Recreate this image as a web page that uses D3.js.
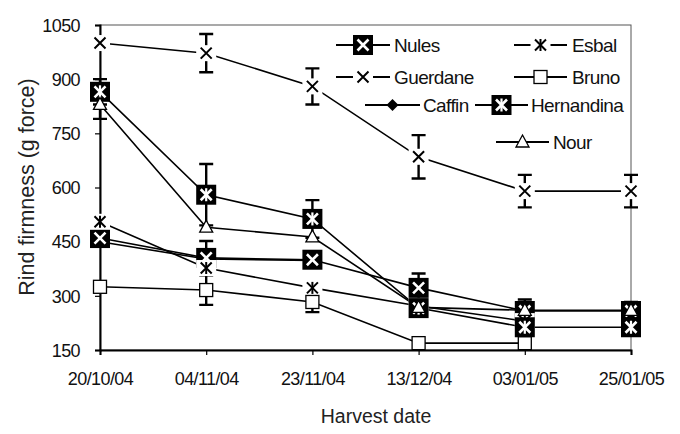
<!DOCTYPE html>
<html><head><meta charset="utf-8">
<script src="https://cdn.jsdelivr.net/npm/d3@7/dist/d3.min.js"></script>
<style>body{margin:0;background:#fff}svg{font-family:"Liberation Sans",Arial,sans-serif}</style>
</head><body><svg id="c" width="680" height="434"></svg>
<script>
const dates = ["20/10/04","04/11/04","23/11/04","13/12/04","03/01/05","25/01/05"];
const yTicks = [150,300,450,600,750,900,1050];
const seriesNames = ["Nules","Esbal","Guerdane","Bruno","Caffin","Hernandina","Nour"];
const nules      = [460, 405, 400, 322, 258, 258];
const esbal      = [505, 377, 322, 272, 230, null];
const guerdane   = [1000, 972, 880, 685, 590, 590];
const bruno      = [325, 316, 283, 169, 169, null];
const caffin     = [450, 402, 398, null, null, null];
const hernandina = [865, 580, 513, 266, 213, 213];
const nour       = [830, 490, 463, 268, 260, 260];
const errNules      = [0, 47, 0, 40, 22, 0];
const errEsbal      = [0, 0, 0, 0, 0, 0];
const errGuerdane   = [0, 53, 50, 60, 45, 45];
const errBruno      = [0, 41, 28, 0, 0, 0];
const errCaffin     = [0, 0, 0, 0, 0, 0];
const errHernandina = [35, 85, 52, 0, 0, 0];
const errNour       = [40, 0, 0, 0, 30, 23];

const series = [
  {name:"Nules", v:nules, e:errNules, m:"sqX"},
  {name:"Esbal", v:esbal, e:errEsbal, m:"ast"},
  {name:"Guerdane", v:guerdane, e:errGuerdane, m:"x"},
  {name:"Bruno", v:bruno, e:errBruno, m:"sqW"},
  {name:"Caffin", v:caffin, e:errCaffin, m:"dia"},
  {name:"Hernandina", v:hernandina, e:errHernandina, m:"sqA"},
  {name:"Nour", v:nour, e:errNour, m:"tri"}
];
const markerOrder = ["Caffin","Nules","Esbal","Guerdane","Bruno","Hernandina","Nour"];

const svg = d3.select("#c");
const L=100, R=631, T=25, B=350;
const x = d3.scalePoint().domain(dates).range([L,R]).padding(0);
const y = d3.scaleLinear().domain([150,1050]).range([B,T]);

// frame
svg.append("rect").attr("x",L).attr("y",T).attr("width",R-L).attr("height",B-T)
  .attr("fill","none").attr("stroke","#555").attr("stroke-width",1);

// axes
const ya = svg.append("g").attr("transform",`translate(${L},0)`)
  .call(d3.axisLeft(y).tickValues(yTicks).tickFormat(d3.format("d")).tickSize(5).tickPadding(15));
const xa = svg.append("g").attr("transform",`translate(0,${B})`)
  .call(d3.axisBottom(x).tickSize(5).tickPadding(18));
[ya,xa].forEach(g=>{
  g.select(".domain").attr("stroke","#000").attr("stroke-width",2);
  g.selectAll(".tick line").attr("stroke","#000").attr("stroke-width",1.2);
  g.selectAll("text").attr("font-size",18).attr("fill","#111").attr("font-family","Liberation Sans, Arial, sans-serif").attr("letter-spacing","-0.6");
});
xa.selectAll(".tick text").attr("dy","0.66em");
ya.selectAll(".tick text").attr("dy","0.35em");

svg.append("text").attr("transform","translate(34,187) rotate(-90)").attr("text-anchor","middle")
  .attr("font-size",21.5).attr("fill","#222").text("Rind firmness (g force)");
svg.append("text").attr("x",376).attr("y",423).attr("text-anchor","middle")
  .attr("font-size",19.5).attr("fill","#222").text("Harvest date");

// lines
const line = d3.line().defined(d=>d.v!=null).x(d=>x(d.d)).y(d=>y(d.v));
const pl = svg.append("g");
series.forEach(s=>{
  const pts = dates.map((d,i)=>({d, v:s.v[i]}));
  pl.append("path").attr("d",line(pts)).attr("fill","none").attr("stroke","#000").attr("stroke-width",1.6);
});

function marker(g, type, cx, cy, bgLine){
  const k = g.append("g").attr("transform",`translate(${cx},${cy})`);
  if(type==="sqX"||type==="sqA"){
    k.append("rect").attr("x",-10).attr("y",-10).attr("width",20).attr("height",20).attr("fill","#000");
    k.append("path").attr("d","M-5.5,-5.5L5.5,5.5M5.5,-5.5L-5.5,5.5").attr("stroke","#fff").attr("stroke-width",2.6);
    if(type==="sqA") k.append("path").attr("d","M0,-6.5V6.5").attr("stroke","#fff").attr("stroke-width",2.2);
  } else if(type==="x"||type==="ast"){
    if(bgLine) k.append("rect").attr("x",-10).attr("y",-8).attr("width",20).attr("height",16).attr("fill","#fff");
    k.append("path").attr("d","M-5.5,-5.5L5.5,5.5M5.5,-5.5L-5.5,5.5").attr("stroke","#000").attr("stroke-width",2);
    if(type==="ast") k.append("path").attr("d","M0,-6V6").attr("stroke","#000").attr("stroke-width",2);
  } else if(type==="sqW"){
    k.append("rect").attr("x",-6.5).attr("y",-6.5).attr("width",13).attr("height",13).attr("fill","#fff").attr("stroke","#000").attr("stroke-width",1.3);
  } else if(type==="dia"){
    k.append("path").attr("d","M0,-6L6,0L0,6L-6,0Z").attr("fill","#000");
  } else if(type==="tri"){
    k.append("path").attr("d","M0,-7L6.5,5L-6.5,5Z").attr("fill","#fff").attr("stroke","#000").attr("stroke-width",1.3);
  }
}

// error bars + markers
const pm = svg.append("g");
series.forEach(s=>{
  dates.forEach((d,i)=>{
    const v=s.v[i]; if(v==null) return;
    const e=s.e[i];
    if(e>0){
      const cx=x(d);
      pm.append("path").attr("d",`M${cx},${y(v+e)}V${y(v-e)}M${cx-7},${y(v+e)}H${cx+7}M${cx-7},${y(v-e)}H${cx+7}`)
        .attr("stroke","#000").attr("stroke-width",2.4).attr("fill","none");
    }
  });
});
markerOrder.forEach(nm=>{
  const s = series.find(q=>q.name===nm);
  dates.forEach((d,i)=>{
    const v=s.v[i]; if(v==null) return;
    marker(pm, s.m, x(d), y(v), true);
  });
});

// legend
const leg = [
  {m:"sqX", x1:336, x2:390, ty:45, tx:394, name:"Nules"},
  {m:"ast", x1:514, x2:567, ty:45, tx:572, name:"Esbal"},
  {m:"x",   x1:336, x2:390, ty:77, tx:394, name:"Guerdane"},
  {m:"sqW", x1:514, x2:567, ty:77, tx:572, name:"Bruno"},
  {m:"dia", x1:365, x2:420, ty:105, tx:423, name:"Caffin"},
  {m:"sqA", x1:475, x2:528, ty:105, tx:531, name:"Hernandina"},
  {m:"tri", x1:496, x2:549, ty:142, tx:553, name:"Nour"}
];
const lg = svg.append("g");
leg.forEach((l,i)=>{
  lg.append("path").attr("d",`M${l.x1},${l.ty}H${l.x2}`).attr("stroke","#000").attr("stroke-width",2);
  marker(lg, l.m, (l.x1+l.x2)/2, l.ty, true);
  lg.append("text").attr("x",l.tx).attr("y",l.ty).attr("dy","0.35em").attr("font-size",19).attr("fill","#111").attr("letter-spacing","-0.6").text(seriesNames[seriesNames.indexOf(l.name)]);
});
</script></body></html>
